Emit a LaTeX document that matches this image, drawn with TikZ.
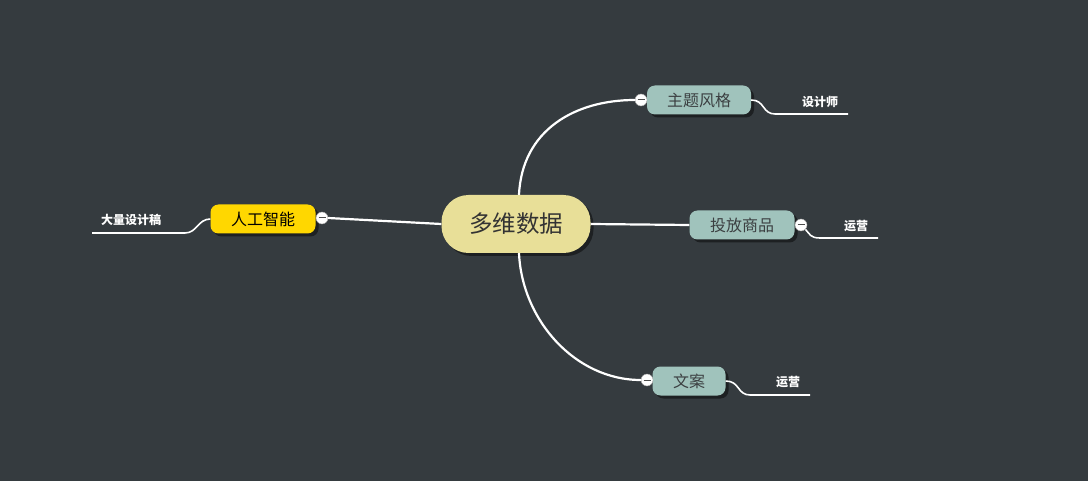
\documentclass[tikz,border=0pt]{standalone}
\usepackage{fontspec}
\setmainfont{Noto Sans CJK SC}
\usetikzlibrary{shadows}
\definecolor{canvasbg}{RGB}{53,59,63}
\definecolor{rootfill}{RGB}{232,223,152}
\definecolor{topicfill}{RGB}{160,195,188}
\definecolor{aifill}{RGB}{255,215,0}
\definecolor{topictext}{RGB}{60,64,66}

\begin{document}
\begin{tikzpicture}[
  x=1pt,y=-1pt,
  rootbox/.style={rectangle,rounded corners=27pt,fill=rootfill,minimum width=149pt,minimum height=58pt,
                  inner sep=0pt,font=\fontsize{23.5}{28}\selectfont,text=black!80,
                  drop shadow={shadow xshift=3pt,shadow yshift=-3pt,fill=black,opacity=0.45}},
  topicbox/.style={rectangle,rounded corners=8pt,fill=topicfill,minimum height=29pt,
                   inner sep=0pt,font=\fontsize{16}{19}\selectfont,text=topictext,
                   drop shadow={shadow xshift=3pt,shadow yshift=-3pt,fill=black,opacity=0.45}},
  notelabel/.style={font=\fontsize{12}{14}\selectfont\bfseries,text=white,inner sep=0pt},
  foldmark/.style={circle,draw=gray!70,fill=white,minimum size=12pt,inner sep=0pt,
                   path picture={\draw[black!70,line width=1pt] ([xshift=-3.5pt]path picture bounding box.center) -- ([xshift=3.5pt]path picture bounding box.center);}},
  branch/.style={white,line width=2.2pt},
  underline/.style={white,line width=1.6pt}
]
\fill[canvasbg] (0,0) rectangle (1088,481);
\useasboundingbox (0,0) rectangle (1088,481);

% main topic and branches
\node[rootbox] (root) at (516,224) {多维数据};
\node[topicbox,minimum width=104pt] (style) at (699,100) {主题风格};
\node[topicbox,minimum width=105pt] (goods) at (742,225) {投放商品};
\node[topicbox,minimum width=73pt] (copy) at (689,381) {文案};
\node[topicbox,minimum width=105pt,fill=aifill,text=black] (ai) at (263,219) {人工智能};

% fold markers
\node[foldmark] (mstyle) at (641,100) {};
\node[foldmark] (mgoods) at (801,225) {};
\node[foldmark] (mcopy) at (647,380) {};
\node[foldmark] (mai) at (322,218) {};

% connectors from the root
\draw[branch] ([xshift=3pt]root.north) .. controls (522,130) and (575,100) .. (mstyle.west);
\draw[branch] ([xshift=3pt]root.south) .. controls (522,320) and (575,380) .. (mcopy.west);
\draw[branch] (root.east) -- (goods.west);
\draw[branch] (root.west) -- (mai.east);

% notes
\node[notelabel] (nstyle) at (820,102) {设计师};
\node[notelabel] (ngoods) at (856,226) {运营};
\node[notelabel] (ncopy) at (788,382) {运营};
\node[notelabel] (nai) at (131,220) {大量设计稿};

\coordinate (ustyle) at (775,114);
\coordinate (ugoods) at (820,238);
\coordinate (ucopy) at (750,395);
\coordinate (uai) at (185,233);

\draw[underline] (style.east) .. controls (765,100) and (762,114) .. (ustyle) -- (848,114);
\draw[underline] (mgoods.south east) .. controls (810,234) and (810,238) .. (ugoods) -- (878,238);
\draw[underline] (copy.east) .. controls (740,381) and (737,395) .. (ucopy) -- (810,395);
\draw[underline] (ai.west) .. controls (198,219) and (197,233) .. (uai) -- (92,233);

\end{tikzpicture}
\end{document}
